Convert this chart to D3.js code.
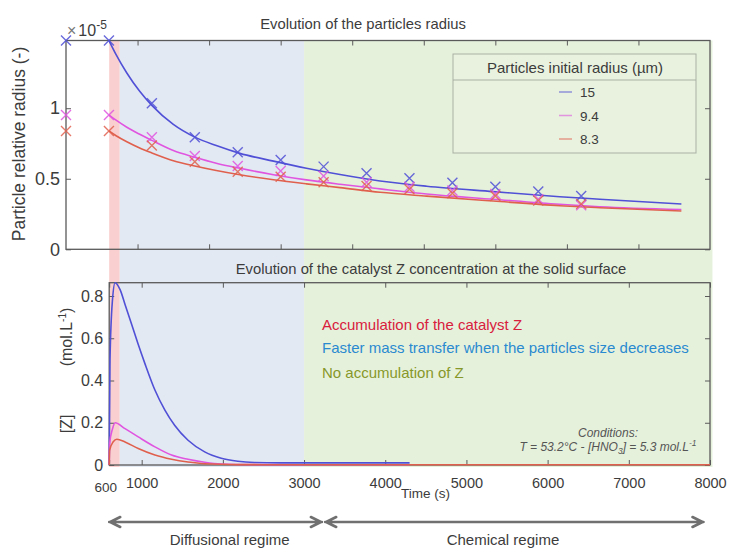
<!DOCTYPE html>
<html>
<head>
<meta charset="utf-8">
<script src="https://cdn.jsdelivr.net/npm/d3@7"></script>
<style>
  body { margin: 0; background: #fff; }
  svg text { font-family: "Liberation Sans", Arial, sans-serif; }
</style>
</head>
<body>
<svg id="chart" width="729" height="550"></svg>
<script>
// -------------------- DATA --------------------
// top panel : particle relative radius (x 1e-5)
const markerTimes = [0, 600, 1200, 1800, 2400, 3000, 3600, 4200, 4800, 5400, 6000, 6600, 7200];
const blueMarkers = [1.48, 1.48, 1.035, 0.794, 0.688, 0.633, 0.586, 0.539, 0.504, 0.472, 0.444, 0.409, 0.378];
const magentaMarkers = [0.952, 0.952, 0.794, 0.662, 0.591, 0.555, 0.52, 0.475, 0.444, 0.416, 0.392, 0.355, 0.312];
const redMarkers = [0.839, 0.839, 0.735, 0.621, 0.55, 0.515, 0.475, 0.449, 0.426, 0.397, 0.378, 0.345, 0.322];

const curveTimes = [600, 700, 850, 1030, 1200, 1500, 1800, 2100, 2430, 2900, 3360, 3830, 4390, 5040, 5970, 6900, 7460, 8600];
const blueCurve = [1.48, 1.38, 1.25, 1.12, 1.02, 0.885, 0.795, 0.735, 0.68, 0.625, 0.575, 0.53, 0.484, 0.447, 0.409, 0.373, 0.355, 0.321];
const magentaCurve = [0.952, 0.915, 0.865, 0.815, 0.772, 0.7, 0.652, 0.61, 0.574, 0.529, 0.492, 0.461, 0.428, 0.392, 0.355, 0.319, 0.302, 0.282];
const redCurve = [0.839, 0.805, 0.762, 0.718, 0.683, 0.628, 0.59, 0.558, 0.528, 0.493, 0.464, 0.437, 0.404, 0.377, 0.342, 0.309, 0.295, 0.272];

// bottom panel : catalyst Z concentration (mol/L)
const blueZTimes = [600, 610, 640, 673, 734, 795, 877, 958, 1040, 1163, 1286, 1408, 1571, 1776, 1980, 2184, 2388, 2700, 3500, 4300];
const blueZ = [0, 0.5, 0.78, 0.863, 0.83, 0.76, 0.665, 0.57, 0.48, 0.355, 0.26, 0.187, 0.117, 0.062, 0.032, 0.018, 0.012, 0.01, 0.01, 0.01];
const magentaZTimes = [600, 605, 640, 673, 795, 958, 1163, 1368, 1571, 1776, 1980, 2400, 3000, 4300];
const magentaZ = [0, 0.1, 0.17, 0.2, 0.172, 0.133, 0.086, 0.047, 0.027, 0.013, 0.005, 0.002, 0.001, 0.001];
const redZTimes = [600, 605, 650, 694, 795, 958, 1163, 1368, 1571, 1776, 2200, 3000, 8000];
const redZ = [0, 0.07, 0.11, 0.122, 0.109, 0.078, 0.047, 0.027, 0.014, 0.006, 0.002, 0.001, 0.001];

const seriesNames = ["15", "9.4", "8.3"];
const seriesColors = ["#5050d6", "#e055e0", "#e0604e"];

// regimes (time s)
const regimes = [
  { from: 600, to: 730, color: "#f9cfcf" },
  { from: 730, to: 3000, color: "#e3e9f3" },
  { from: 3000, to: 8030, color: "#e6f1dc" }
];
const topXTicks = [1000, 2000, 3000, 4000, 5000, 6000, 7000, 8000];
const topYTicks = [0, 0.5, 1];
const botXTicks = [600, 1000, 2000, 3000, 4000, 5000, 6000, 7000, 8000];
const botYTicks = [0, 0.2, 0.4, 0.6, 0.8];

// -------------------- SCALES --------------------
const svg = d3.select("#chart");
const xTop = d3.scaleLinear().domain([0, 9000]).range([66, 710]);
const yTop = d3.scaleLinear().domain([0, 1.48]).range([249.3, 40.5]);
const xBot = d3.scaleLinear().domain([600, 8000]).range([109.2, 710]);
const yBot = d3.scaleLinear().domain([0, 0.863]).range([465, 282.7]);

const axisColor = "#5a5a5a";
const textColor = "#3c3c3c";

// -------------------- BACKGROUND BANDS --------------------
svg.append("g").selectAll("rect")
  .data(regimes)
  .enter()
  .append("rect")
  .attr("x", d => xBot(d.from))
  .attr("width", d => xBot(d.to) - xBot(d.from))
  .attr("y", yTop.range()[1])
  .attr("height", 467 - yTop.range()[1])
  .attr("fill", d => d.color);

// -------------------- TITLES --------------------
svg.append("text")
  .attr("x", 363).attr("y", 28.5)
  .attr("text-anchor", "middle")
  .style("font-size", "14.8px").style("fill", textColor)
  .text("Evolution of the particles radius");

svg.append("text")
  .attr("x", 431).attr("y", 274)
  .attr("text-anchor", "middle")
  .style("font-size", "14.8px").style("fill", textColor)
  .text("Evolution of the catalyst Z concentration at the solid surface");

// -------------------- AXES HELPERS --------------------
function styleAxis(g, fontSize) {
  g.select(".domain").remove();
  g.selectAll(".tick line").attr("stroke", axisColor);
  g.selectAll(".tick text")
    .style("font-size", fontSize)
    .style("font-family", '"Liberation Sans", Arial, sans-serif')
    .attr("fill", textColor);
}

// -------------------- TOP PANEL --------------------
const topPanel = svg.append("g");
const [tx0, tx1] = xTop.range();
const [ty0, ty1] = yTop.range();

topPanel.append("g").attr("transform", `translate(0,${ty0})`)
  .call(d3.axisBottom(xTop).tickValues(topXTicks).tickSize(-5).tickFormat(""))
  .call(g => styleAxis(g, "14px"));
topPanel.append("g").attr("transform", `translate(0,${ty1})`)
  .call(d3.axisTop(xTop).tickValues(topXTicks).tickSize(-5).tickFormat(""))
  .call(g => styleAxis(g, "14px"));
topPanel.append("g").attr("transform", `translate(${tx0},0)`)
  .call(d3.axisLeft(yTop).tickValues(topYTicks).tickSize(-5).tickPadding(6).tickFormat(d3.format("")))
  .call(g => styleAxis(g, "18px"));
topPanel.append("g").attr("transform", `translate(${tx1},0)`)
  .call(d3.axisRight(yTop).tickValues(topYTicks).tickSize(-5).tickFormat(""))
  .call(g => styleAxis(g, "14px"));

topPanel.append("rect")
  .attr("x", tx0).attr("y", ty1)
  .attr("width", tx1 - tx0).attr("height", ty0 - ty1)
  .attr("fill", "none").attr("stroke", axisColor).attr("stroke-width", 1.3);

// exponent label
const expo = svg.append("text").attr("x", 67).attr("y", 36)
  .style("font-size", "16px").style("fill", textColor);
expo.append("tspan").style("fill", "#777").text("\u00d7");
expo.append("tspan").attr("dx", 2).text("10");
expo.append("tspan").attr("dy", -7).style("font-size", "12px").text("-5");

// y label
svg.append("text")
  .attr("transform", "translate(25,144) rotate(-90)")
  .attr("text-anchor", "middle")
  .style("font-size", "17.5px").style("fill", textColor)
  .text("Particle relative radius (-)");

const topLine = d3.line().x(d => xTop(d[0])).y(d => yTop(d[1])).curve(d3.curveMonotoneX);
const topCurves = [blueCurve, magentaCurve, redCurve];
const topMarkers = [blueMarkers, magentaMarkers, redMarkers];

topPanel.append("g").selectAll("path")
  .data(topCurves)
  .enter()
  .append("path")
  .attr("d", vals => topLine(curveTimes.map((t, i) => [t, vals[i]])))
  .attr("fill", "none")
  .attr("stroke", (d, i) => seriesColors[i])
  .attr("stroke-width", 1.6);

const s = 5;
topMarkers.forEach((vals, k) => {
  topPanel.append("g").selectAll("path")
    .data(markerTimes.map((t, i) => [t, vals[i]]))
    .enter()
    .append("path")
    .attr("d", d => {
      const x = xTop(d[0]), y = yTop(d[1]);
      return `M${x - s},${y - s}L${x + s},${y + s}M${x - s},${y + s}L${x + s},${y - s}`;
    })
    .attr("fill", "none")
    .attr("stroke", seriesColors[k])
    .attr("stroke-opacity", 0.85)
    .attr("stroke-width", 1.4);
});

// legend
const legend = svg.append("g");
legend.append("rect")
  .attr("x", 453).attr("y", 54).attr("width", 243).attr("height", 99)
  .attr("fill", "#e9f2df").attr("stroke", "#a9b0a4");
legend.append("line")
  .attr("x1", 453).attr("x2", 696).attr("y1", 80).attr("y2", 80)
  .attr("stroke", "#a9b0a4");
legend.append("text")
  .attr("x", 575).attr("y", 72.5)
  .attr("text-anchor", "middle")
  .style("font-size", "15px").style("fill", textColor)
  .text("Particles initial radius (\u00b5m)");
const legItems = legend.selectAll("g.item")
  .data(seriesNames)
  .enter()
  .append("g")
  .attr("class", "item")
  .attr("transform", (d, i) => `translate(0,${92 + i * 23.5})`);
legItems.append("line")
  .attr("x1", 559).attr("x2", 572)
  .attr("stroke", (d, i) => seriesColors[i])
  .attr("stroke-opacity", 0.6)
  .attr("stroke-width", 1.5);
legItems.append("text")
  .attr("x", 580).attr("y", 5)
  .style("font-size", "13.5px").style("fill", textColor)
  .text(d => d);

// -------------------- BOTTOM PANEL --------------------
const botPanel = svg.append("g");
const [bx0, bx1] = xBot.range();
const [by0, by1] = yBot.range();

botPanel.append("g").attr("transform", `translate(0,${by0})`)
  .call(d3.axisBottom(xBot).tickValues(botXTicks).tickSize(-5).tickPadding(13).tickFormat(d3.format("")))
  .call(g => styleAxis(g, "14.5px"))
  .call(g => g.selectAll(".tick text").filter(d => d === 600)
    .style("font-size", "13.5px").attr("dy", "1em").attr("dx", -4));
botPanel.append("g").attr("transform", `translate(0,${by1})`)
  .call(d3.axisTop(xBot).tickValues(botXTicks).tickSize(-5).tickFormat(""))
  .call(g => styleAxis(g, "14px"));
botPanel.append("g").attr("transform", `translate(${bx0},0)`)
  .call(d3.axisLeft(yBot).tickValues(botYTicks).tickSize(-5).tickPadding(6).tickFormat(d => d === 0 ? "0" : d3.format(".1f")(d)))
  .call(g => styleAxis(g, "16px"));
botPanel.append("g").attr("transform", `translate(${bx1},0)`)
  .call(d3.axisRight(yBot).tickValues(botYTicks).tickSize(-5).tickFormat(""))
  .call(g => styleAxis(g, "14px"));

botPanel.append("rect")
  .attr("x", bx0).attr("y", by1)
  .attr("width", bx1 - bx0).attr("height", by0 - by1)
  .attr("fill", "none").attr("stroke", axisColor).attr("stroke-width", 1.3);

// y label
svg.append("text")
  .attr("transform", "translate(72,424) rotate(-90)")
  .attr("text-anchor", "middle")
  .style("font-size", "16px").style("fill", textColor)
  .text("[Z]");
const unit = svg.append("text")
  .attr("transform", "translate(72,337) rotate(-90)")
  .attr("text-anchor", "middle")
  .style("font-size", "16px").style("fill", textColor);
unit.append("tspan").text("(mol.L");
unit.append("tspan").attr("dy", -6).style("font-size", "10px").text("-1");
unit.append("tspan").attr("dy", 6).text(")");

const botLine = d3.line().x(d => xBot(d[0])).y(d => yBot(d[1])).curve(d3.curveMonotoneX);
const zSeries = [
  [blueZTimes, blueZ],
  [magentaZTimes, magentaZ],
  [redZTimes, redZ]
];
botPanel.append("g").selectAll("path")
  .data(zSeries)
  .enter()
  .append("path")
  .attr("d", d => botLine(d[0].map((t, i) => [t, d[1][i]])))
  .attr("fill", "none")
  .attr("stroke", (d, i) => seriesColors[i])
  .attr("stroke-width", 1.6);

// annotations
const notes = [
  { text: "Accumulation of the catalyst Z", color: "#d8203c", y: 330 },
  { text: "Faster mass transfer when the particles size decreases", color: "#2a8ad0", y: 352.5 },
  { text: "No accumulation of Z", color: "#86982a", y: 377.5 }
];
svg.append("g").selectAll("text")
  .data(notes)
  .enter()
  .append("text")
  .attr("x", 322).attr("y", d => d.y)
  .style("font-size", "15px")
  .style("fill", d => d.color)
  .text(d => d.text);

svg.append("text")
  .attr("x", 608).attr("y", 437)
  .attr("text-anchor", "middle")
  .style("font-size", "12px").style("font-style", "italic").style("fill", "#555")
  .text("Conditions:");
const cond = svg.append("text")
  .attr("x", 608).attr("y", 450.5)
  .attr("text-anchor", "middle")
  .style("font-size", "12px").style("font-style", "italic").style("fill", "#555");
cond.append("tspan").text("T = 53.2\u00b0C - [HNO");
cond.append("tspan").attr("dy", 3).style("font-size", "8.5px").text("3");
cond.append("tspan").attr("dy", -3).text("] = 5.3 mol.L");
cond.append("tspan").attr("dy", -5).style("font-size", "8.5px").text("-1");

svg.append("text")
  .attr("x", 425.5).attr("y", 498)
  .attr("text-anchor", "middle")
  .style("font-size", "13.5px").style("fill", textColor)
  .text("Time (s)");

// -------------------- REGIME ARROWS --------------------
const arrows = [
  { from: 600, to: 3220, labelAt: 2084, label: "Diffusional regime" },
  { from: 3260, to: 7920, labelAt: 5450, label: "Chemical regime" }
];
const arrowY = 522;
const ag = svg.append("g").selectAll("g")
  .data(arrows)
  .enter()
  .append("g");
ag.append("path")
  .attr("d", d => {
    const a = xBot(d.from), b = xBot(d.to);
    return `M${a},${arrowY}L${b},${arrowY}` +
      `M${a + 11},${arrowY - 5}L${a + 1},${arrowY}L${a + 11},${arrowY + 5}` +
      `M${b - 11},${arrowY - 5}L${b - 1},${arrowY}L${b - 11},${arrowY + 5}`;
  })
  .attr("fill", "none")
  .attr("stroke", "#707070")
  .attr("stroke-width", 2.6)
  .attr("stroke-linecap", "round")
  .attr("stroke-linejoin", "round");
ag.append("text")
  .attr("x", d => xBot(d.labelAt))
  .attr("y", 545)
  .attr("text-anchor", "middle")
  .style("font-size", "15px").style("fill", textColor)
  .text(d => d.label);
</script>
</body>
</html>
